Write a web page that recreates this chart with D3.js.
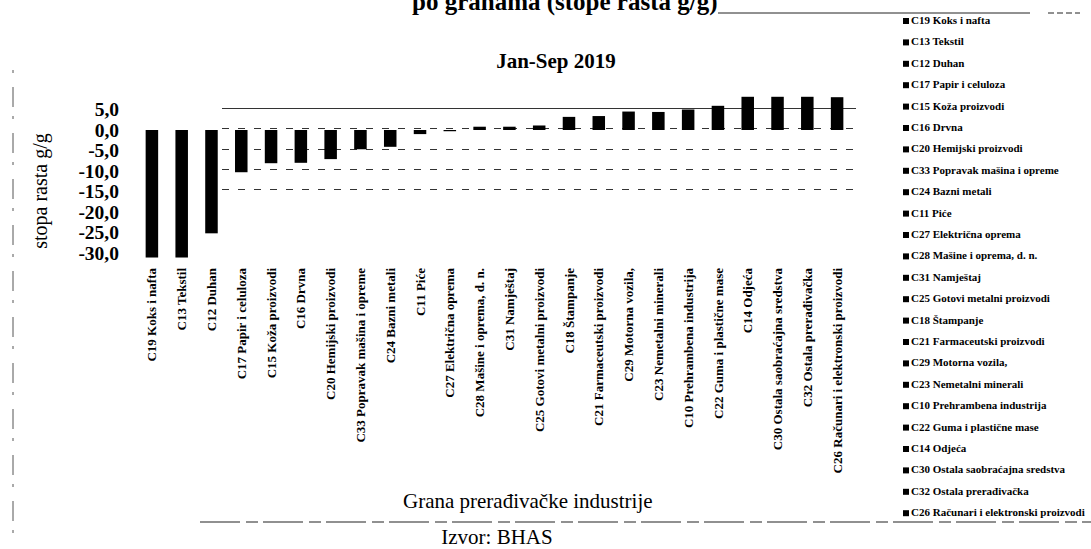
<!DOCTYPE html>
<html>
<head>
<meta charset="utf-8">
<script src="https://cdn.jsdelivr.net/npm/d3@7"></script>
<style>
  body { margin: 0; background: #fff; }
  svg { font-family: "Liberation Serif", "DejaVu Serif", serif; }
</style>
</head>
<body>
<div id="chart"></div>
<script>
// Grane (sorted as in the chart) and growth rates g/g, Jan-Sep 2019
const branches = [
  "C19 Koks i nafta", "C13 Tekstil", "C12 Duhan", "C17 Papir i celuloza",
  "C15 Koža proizvodi", "C16 Drvna", "C20 Hemijski proizvodi",
  "C33 Popravak mašina i opreme", "C24 Bazni metali", "C11 Piće",
  "C27 Električna oprema", "C28 Mašine i oprema, d. n.", "C31 Namještaj",
  "C25 Gotovi metalni proizvodi", "C18 Štampanje", "C21 Farmaceutski proizvodi",
  "C29 Motorna vozila,", "C23 Nemetalni minerali", "C10 Prehrambena industrija",
  "C22 Guma i plastične mase", "C14 Odjeća", "C30 Ostala saobraćajna sredstva",
  "C32 Ostala prerađivačka", "C26 Računari i elektronski proizvodi"
];
const growth = [
  -31.1, -31.1, -25.2, -10.3, -8.1, -8.0, -7.1, -4.7, -4.1, -1.0,
  -0.3, 0.8, 0.8, 1.1, 3.2, 3.4, 4.5, 4.4, 5.0, 5.9, 8.1, 8.1, 8.1, 8.0
];
const yTicks = [5, 0, -5, -10, -15, -20, -25, -30];
const gridTicks = [5, 0, -5, -10, -15];

const data = branches.map((b, i) => ({ branch: b, value: growth[i] }));

const width = 1091;
const height = 549;

const svg = d3.select("#chart")
  .append("svg")
  .attr("width", width)
  .attr("height", height);

// scales
const x = d3.scaleBand()
  .domain(branches)
  .range([137, 852])
  .paddingInner(0.58)
  .paddingOuter(0.29);

const y = d3.scaleLinear()
  .domain([-30, 5])
  .range([253, 109.5]);

const fmt = v => d3.format(".1f")(v).replace(".", ",").replace("−", "-");

// broken gridlines (scanned look)
svg.append("g")
  .selectAll("line")
  .data(gridTicks)
  .enter()
  .append("line")
  .attr("x1", 222)
  .attr("x2", 856)
  .attr("y1", d => Math.round(y(d)) - 1.5)
  .attr("y2", d => Math.round(y(d)) - 1.5)
  .attr("stroke", "#333")
  .attr("stroke-width", 1)
  .attr("stroke-dasharray", d => d === 5 ? null : "7,9");

// bars
svg.append("g")
  .selectAll("rect")
  .data(data)
  .enter()
  .append("rect")
  .attr("x", d => x(d.branch))
  .attr("width", x.bandwidth())
  .attr("y", d => y(Math.max(0, d.value)))
  .attr("height", d => Math.abs(y(d.value) - y(0)))
  .attr("fill", "#000");

// y axis (labels only)
const yAxis = svg.append("g")
  .attr("transform", "translate(119,0)")
  .call(d3.axisLeft(y).tickValues(yTicks).tickSize(0).tickPadding(0).tickFormat(fmt));
yAxis.select(".domain").remove();
yAxis.selectAll("text")
  .attr("font-family", "Liberation Serif")
  .attr("font-size", 19.5)
  .attr("font-weight", "bold")
  .attr("fill", "#000");

// x axis labels, rotated
const xAxis = svg.append("g")
  .attr("transform", "translate(0,268)")
  .call(d3.axisBottom(x).tickSize(0).tickPadding(0));
xAxis.select(".domain").remove();
xAxis.selectAll("text")
  .attr("font-family", "Liberation Serif")
  .attr("font-size", 13)
  .attr("font-weight", "bold")
  .attr("fill", "#000")
  .attr("text-anchor", "end")
  .attr("transform", "rotate(-90)")
  .attr("x", 0)
  .attr("y", 0)
  .attr("dy", "0.35em");

// titles
svg.append("text")
  .attr("x", 412)
  .attr("y", 10)
  .attr("font-size", 25)
  .attr("font-weight", "bold")
  .text("po granama (stope rasta g/g)");

svg.append("text")
  .attr("x", 556)
  .attr("y", 68)
  .attr("text-anchor", "middle")
  .attr("font-size", 21)
  .attr("font-weight", "bold")
  .text("Jan-Sep 2019");

svg.append("text")
  .attr("transform", "translate(47,191) rotate(-90)")
  .attr("text-anchor", "middle")
  .attr("font-size", 20)
  .text("stopa rasta g/g");

svg.append("text")
  .attr("x", 403)
  .attr("y", 508)
  .attr("font-size", 21)
  .text("Grana prerađivačke industrije");

svg.append("text")
  .attr("x", 497)
  .attr("y", 544)
  .attr("text-anchor", "middle")
  .attr("font-size", 21)
  .text("Izvor: BHAS");

// frame lines from the document
svg.append("line")
  .attr("x1", 718).attr("x2", 1030)
  .attr("y1", 13).attr("y2", 13)
  .attr("stroke", "#222").attr("stroke-width", 1);
svg.append("line")
  .attr("x1", 1048).attr("x2", 1080)
  .attr("y1", 13).attr("y2", 13)
  .attr("stroke", "#222").attr("stroke-width", 1)
  .attr("stroke-dasharray", "6,3");
svg.append("line")
  .attr("x1", 200).attr("x2", 1091)
  .attr("y1", 522).attr("y2", 522)
  .attr("stroke", "#222").attr("stroke-width", 1.2)
  .attr("stroke-dasharray", "40,6,12,5");
svg.append("line")
  .attr("x1", 13).attr("x2", 13)
  .attr("y1", 70).attr("y2", 545)
  .attr("stroke", "#555").attr("stroke-width", 1)
  .attr("stroke-dasharray", "3,14,20,9");

// legend
const legend = svg.append("g")
  .attr("transform", "translate(903,24)");

const legendItem = legend.selectAll("g")
  .data(branches)
  .enter()
  .append("g")
  .attr("transform", (d, i) => `translate(0, ${i * 21.4})`);

legendItem.append("rect")
  .attr("x", 0)
  .attr("y", -6)
  .attr("width", 6)
  .attr("height", 6)
  .attr("fill", "#000");

legendItem.append("text")
  .attr("x", 8)
  .attr("y", 0)
  .attr("font-size", 11)
  .attr("font-weight", "bold")
  .text(d => d);
</script>
</body>
</html>
